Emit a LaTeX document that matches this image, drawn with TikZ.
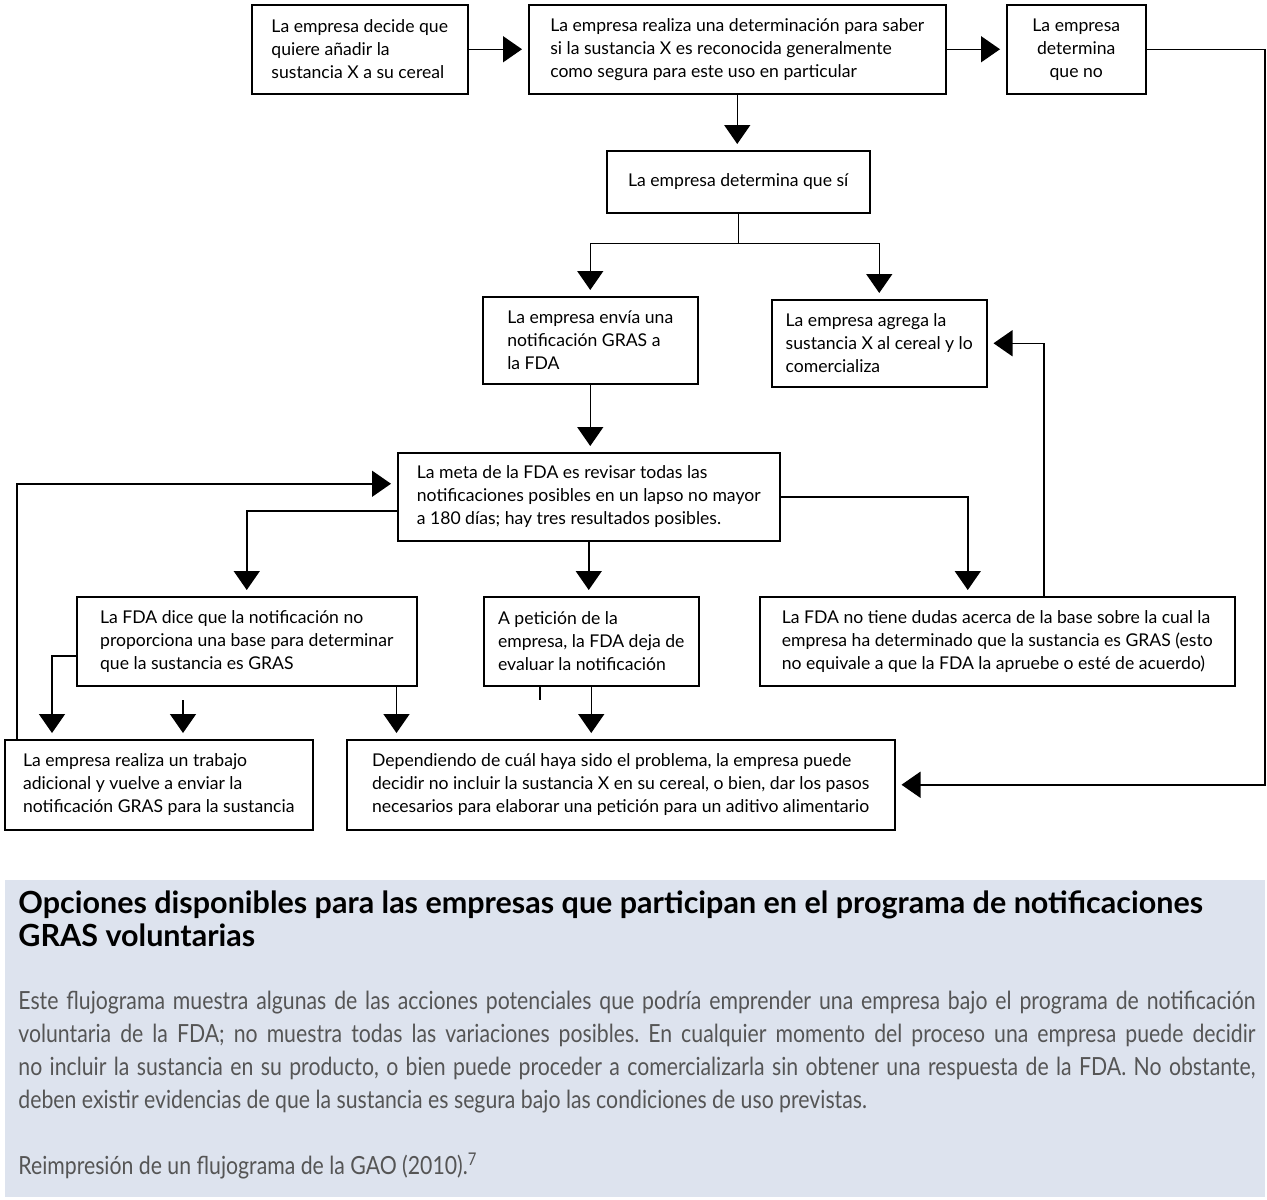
\documentclass[tikz,border=0pt]{standalone}
\usepackage{fontspec}
\setmainfont{Lato}
\newfontfamily\cuerpofont[FakeStretch=0.85]{Lato}
\usetikzlibrary{arrows.meta}
\definecolor{fondo}{HTML}{DDE3EE}
\definecolor{gristexto}{HTML}{555555}
\frenchspacing

\begin{document}
\begin{tikzpicture}[x=0.5pt, y=-0.5pt,
  caja/.style={draw, line width=0.75pt, anchor=north west, align=left, inner sep=2pt,
    font=\fontsize{8.8}{11.5}\selectfont},
  flecha/.style={line width=0.75pt, -{Triangle[width=13pt, length=9.5pt]}, shorten >=3pt},
  linea/.style={line width=0.75pt}]
\useasboundingbox (0,0) rectangle (1267,1199);

% fila de arriba
\node (decide)[caja, minimum width=108pt, minimum height=44.5pt] at (251,4)
  {La empresa decide que\\quiere añadir la\\sustancia X a su cereal};
\node (evalua)[caja, minimum width=208.5pt, minimum height=44.5pt] at (528,4)
  {La empresa realiza una determinación para saber\\si la sustancia X es reconocida generalmente\\como segura para este uso en particular};
\node (no)[caja, align=center, minimum width=69.5pt, minimum height=44.5pt] at (1006,4)
  {La empresa\\determina\\que no};
\node (si)[caja, align=center, minimum width=131.5pt, minimum height=31pt] at (606,150)
  {La empresa determina que sí};

% segunda fila
\node (envia)[caja, minimum width=107.5pt, minimum height=43.5pt] at (482,296)
  {La empresa envía una\\notificación GRAS a\\la FDA};
\node (agrega)[caja, minimum width=107.5pt, minimum height=43.5pt] at (771,299)
  {La empresa agrega la\\sustancia X al cereal y lo\\comercializa};
\node (meta)[caja, minimum width=191pt, minimum height=44pt] at (397,452)
  {La meta de la FDA es revisar todas las\\notificaciones posibles en un lapso no mayor\\a 180 días; hay tres resultados posibles.};

% resultados
\node (nobase)[caja, minimum width=170pt, minimum height=44.5pt] at (76,596)
  {La FDA dice que la notificación no\\proporciona una base para determinar\\que la sustancia es GRAS};
\node (peticion)[caja, minimum width=107.5pt, minimum height=44.5pt] at (483,596)
  {A petición de la\\empresa, la FDA deja de\\evaluar la notificación};
\node (nodudas)[caja, minimum width=237.5pt, minimum height=44.5pt] at (759,596)
  {La FDA no tiene dudas acerca de la base sobre la cual la\\empresa ha determinado que la sustancia es GRAS (esto\\no equivale a que la FDA la apruebe o esté de acuerdo)};
\node (reenvia)[caja, minimum width=154pt, minimum height=45pt] at (4,739)
  {La empresa realiza un trabajo\\adicional y vuelve a enviar la\\notificación GRAS para la sustancia};
\node (depende)[caja, minimum width=274pt, minimum height=45pt] at (346,739)
  {Dependiendo de cuál haya sido el problema, la empresa puede\\decidir no incluir la sustancia X en su cereal, o bien, dar los pasos\\necesarios para elaborar una petición para un aditivo alimentario};

\coordinate (derecha) at (1265,47);
\coordinate (suelto) at (183,700);

\draw[flecha] (decide.east) -- (evalua.west);
\draw[flecha] (evalua.east) -- (no.west);
\draw[flecha] (no.east) -- (no.east -| derecha) |- (depende.east);
\draw[flecha] (evalua.south) -- (evalua.south |- si.north);
\draw[linea] (si.south) -- ++(0,30) coordinate (ramal);
\draw[flecha] (ramal) -| (envia.north);
\draw[flecha] (ramal) -| (agrega.north);
\draw[flecha] (envia.south) -- (envia.south |- meta.north);
\draw[flecha] ([xshift=6.5pt]reenvia.north west) |- ([yshift=6.5pt]meta.west);
\draw[flecha] ([yshift=-7pt]meta.west) -| (nobase.north);
\draw[flecha] (meta.south) -- (meta.south |- peticion.north);
\draw[flecha] (meta.east) -| ([xshift=-14.75pt]nodudas.north);
\draw[flecha] ([xshift=23.25pt]nodudas.north) |- (agrega.east);
\draw[flecha] ([yshift=-7.25pt]nobase.west) -| ([xshift=24pt]reenvia.north west);
\draw[flecha] (suelto) -- (suelto |- reenvia.north);
\draw[flecha] ([xshift=-10.5pt]nobase.south east) -- ([xshift=-10.5pt]nobase.south east |- depende.north);
\draw[flecha] (peticion.south) -- (peticion.south |- depende.north);
\draw[linea] ([xshift=28.5pt]peticion.south west) -- ++(0,13);

% recuadro del pie
\fill[fondo] (5,880) rectangle (1265,1197);
\node (titulo)[anchor=north west, align=left, inner sep=0pt, font=\bfseries\fontsize{15.25}{16.5}\selectfont] at (18,890)
  {Opciones disponibles para las empresas que participan en el programa de notificaciones\\GRAS voluntarias};
\node (cuerpo)[anchor=north west, text width=618.5pt, align=justify, inner sep=0pt, text=gristexto,
  font=\cuerpofont\fontsize{12.5}{16.5}\selectfont] at (18,991)
  {Este flujograma muestra algunas de las acciones potenciales que podría emprender una empresa bajo el programa de notificación\linebreak
   voluntaria de la FDA; no muestra todas las variaciones posibles. En cualquier momento del proceso una empresa puede decidir\linebreak
   no incluir la sustancia en su producto, o bien puede proceder a comercializarla sin obtener una respuesta de la FDA. No obstante,\linebreak
   deben existir evidencias de que la sustancia es segura bajo las condiciones de uso previstas.};
\node (reimpresion)[anchor=north west, inner sep=0pt, text=gristexto, font=\cuerpofont\fontsize{12.5}{16.5}\selectfont] at (18,1153)
  {Reimpresión de un flujograma de la GAO (2010).\textsuperscript{7}};
\end{tikzpicture}
\end{document}
